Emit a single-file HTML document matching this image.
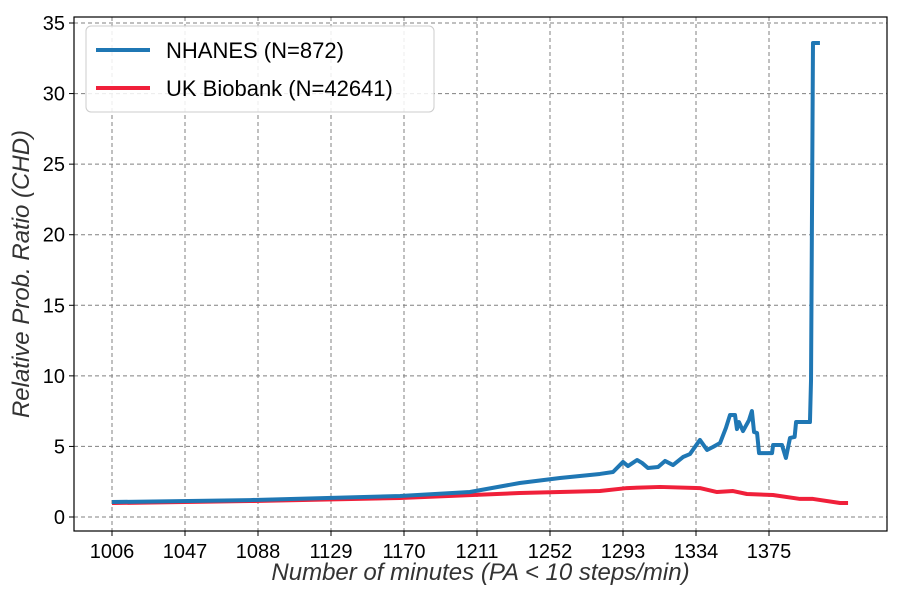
<!DOCTYPE html>
<html><head><meta charset="utf-8"><style>
body{margin:0;background:#fff}
svg text{font-family:"Liberation Sans",Arial,sans-serif}
</style></head><body>
<svg id="c" width="900" height="600" xmlns="http://www.w3.org/2000/svg"></svg>
<script>
const xTicks=[1006,1047,1088,1129,1170,1211,1252,1293,1334,1375];
const yTicks=[0,5,10,15,20,25,30,35];
const nhX=[1006,1083.5,1167.8,1207,1235,1257.6,1280,1287.4,1293,1295.8,1300.9,1303.7,1307,1312.7,1316.6,1321.1,1326.7,1330.6,1336.2,1340.2,1343.5,1347.5,1350.8,1353.1,1355.9,1357,1358.1,1360.4,1363.8,1365.4,1366.6,1368.3,1369.4,1376.7,1377.3,1382.3,1384.5,1386.8,1389.4,1390.2,1398,1398.6,1399.7,1403.6];
const nhY=[1.06,1.2,1.49,1.77,2.41,2.76,3.05,3.19,3.9,3.61,4.04,3.83,3.47,3.54,3.97,3.68,4.25,4.46,5.46,4.75,4.96,5.24,6.31,7.23,7.23,6.23,6.73,6.09,6.87,7.51,6.02,5.95,4.53,4.53,5.1,5.1,4.18,5.6,5.67,6.73,6.73,9.7,33.58,33.58];
const ukX=[1006,1083.5,1167.8,1235,1257.6,1280,1295.2,1313.8,1336.2,1345.8,1354.8,1362.6,1377.2,1392.4,1399.7,1414.9,1419.4];
const ukY=[0.99,1.13,1.35,1.7,1.77,1.84,2.05,2.13,2.05,1.77,1.84,1.63,1.56,1.28,1.28,0.99,0.99];
const L=74,R=887,T=17,B=531;
const xs=v=>112+(v-1006)*1.7805;
const ys=v=>517-14.114*v;
const svg=document.getElementById('c');
const NS='http://www.w3.org/2000/svg';
function mk(t,a,p){const e=document.createElementNS(NS,t);for(const k in a)e.setAttribute(k,a[k]);(p||svg).appendChild(e);return e;}
xTicks.forEach(t=>{
 const g=mk('line',{x1:xs(t),x2:xs(t),y1:T,y2:B,stroke:'#808080','stroke-dasharray':'4,3','stroke-width':1});
 
 
 const tk=mk('line',{x1:xs(t),x2:xs(t),y1:B,y2:B+5,stroke:'#000'});
 
 
 const tx=mk('text',{x:xs(t),y:B+27,'text-anchor':'middle','font-size':20});
 tx.textContent=t;
 
 
});
yTicks.forEach(t=>{
 const g=mk('line',{x1:L,x2:R,y1:ys(t),y2:ys(t),stroke:'#808080','stroke-dasharray':'4,3','stroke-width':1});
 
 
 const tk=mk('line',{x1:L-5,x2:L,y1:ys(t),y2:ys(t),stroke:'#000'});
 
 
 const tx=mk('text',{x:L-9,y:ys(t)+7,'text-anchor':'end','font-size':20});
 tx.textContent=t;
 
 
});
function line(X,Y,col,name){
 const p=mk('polyline',{points:X.map((x,i)=>xs(x)+','+ys(Y[i])).join(' '),fill:'none',stroke:col,'stroke-width':4,'stroke-linejoin':'round'});
 
 
}
line(ukX,ukY,'#f0203a','uk-biobank-line');
line(nhX,nhY,'#1f77b4','nhanes-line');
const fr=mk('rect',{x:L,y:T,width:R-L,height:B-T,fill:'none',stroke:'#000','stroke-width':1.2});


const xl=mk('text',{x:(L+R)/2,y:580,'text-anchor':'middle','font-size':24,'font-style':'italic',fill:'#333'});
xl.textContent='Number of minutes (PA < 10 steps/min)';


const yl=mk('text',{x:0,y:0,'text-anchor':'middle','font-size':24,'font-style':'italic',fill:'#333',transform:'translate(29,274) rotate(-90)'});
yl.textContent='Relative Prob. Ratio (CHD)';


const lg=mk('g',{});


mk('rect',{x:86,y:26,width:348,height:86,rx:5,fill:'#fff','fill-opacity':0.85,stroke:'#ccc'},lg);
[['NHANES (N=872)','#1f77b4',50],['UK Biobank (N=42641)','#f0203a',88]].forEach(d=>{
 const e=mk('g',{},lg);
 
 
 mk('line',{x1:96,x2:150,y1:d[2],y2:d[2],stroke:d[1],'stroke-width':4},e);
 const t=mk('text',{x:166,y:d[2]+8,'font-size':22},e);
 t.textContent=d[0];
});
</script>
</body></html>
